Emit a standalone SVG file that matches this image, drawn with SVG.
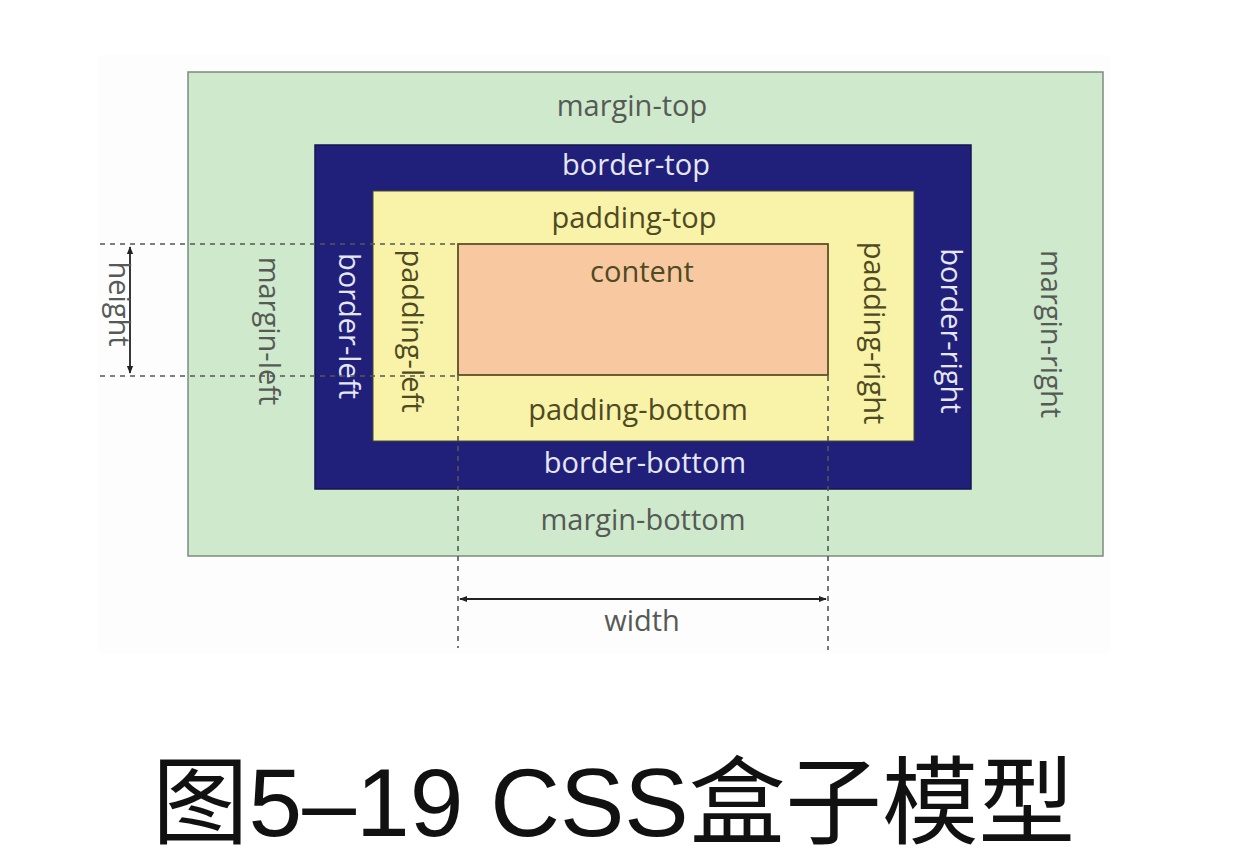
<svg xmlns="http://www.w3.org/2000/svg" width="1240" height="868" viewBox="0 0 1240 868">
<defs>
<style>
.lbl{font-family:"Open Sans","DejaVu Sans",sans-serif;font-size:29px;text-anchor:middle;dominant-baseline:central}
.mg{fill:#565a56}
.bd{fill:#e6e6f4}
.pd{fill:#4e4a22}
.dash{stroke:#555;stroke-width:1.6;stroke-dasharray:5 5;fill:none}
.dim{stroke:#222;stroke-width:1.8;fill:none}
.title{font-family:"Liberation Sans","Noto Sans CJK SC",sans-serif;font-size:96px;fill:#111}
</style>
<marker id="ah" viewBox="0 0 10 10" refX="9" refY="5" markerWidth="8" markerHeight="8" orient="auto-start-reverse" markerUnits="userSpaceOnUse">
<path d="M0,1 L10,5 L0,9 z" fill="#222"/>
</marker>
</defs>
<rect width="1240" height="868" fill="#ffffff"/>
<rect x="98" y="55" width="1012" height="598" fill="#fdfdfd"/>

<g id="margin">
<rect x="188" y="72" width="915" height="484" fill="#cfe9cc" stroke="#7e8a7e" stroke-width="1.5"/>
<text class="lbl mg" x="632" y="104">margin-top</text>
<text class="lbl mg" x="643" y="518">margin-bottom</text>
<text class="lbl mg" transform="translate(270,331) rotate(90)">margin-left</text>
<text class="lbl mg" transform="translate(1052,334) rotate(90)">margin-right</text>
</g>

<g id="border">
<rect x="315" y="145" width="656" height="344" fill="#20207a" stroke="#15154f" stroke-width="1.5"/>
<text class="lbl bd" x="636" y="163">border-top</text>
<text class="lbl bd" x="645" y="461">border-bottom</text>
<text class="lbl bd" transform="translate(350,326) rotate(90)">border-left</text>
<text class="lbl bd" transform="translate(952,331) rotate(90)">border-right</text>
</g>

<g id="padding">
<rect x="373" y="191" width="541" height="250" fill="#f8f3a8" stroke="#4a4a2a" stroke-width="1"/>
<text class="lbl pd" x="634" y="216">padding-top</text>
<text class="lbl pd" x="638" y="408">padding-bottom</text>
<text class="lbl pd" transform="translate(413,331) rotate(90)">padding-left</text>
<text class="lbl pd" transform="translate(875,333) rotate(90)">padding-right</text>
</g>

<g id="content">
<rect x="458" y="244" width="370" height="131" fill="#f8c9a0" stroke="#5a5226" stroke-width="1.8"/>
<text class="lbl pd" x="642" y="270">content</text>
</g>

<g id="connectors">
<line class="dash" x1="100" y1="244" x2="458" y2="244"/>
<line class="dash" x1="100" y1="376" x2="458" y2="376"/>
<line class="dash" x1="458" y1="376" x2="458" y2="648"/>
<line class="dash" x1="828" y1="376" x2="828" y2="650"/>
<line class="dim" x1="130" y1="247" x2="130" y2="373" marker-start="url(#ah)" marker-end="url(#ah)"/>
<line class="dim" x1="460" y1="599" x2="826" y2="599" marker-start="url(#ah)" marker-end="url(#ah)"/>
</g>

<g id="dimension-labels">
<text class="lbl mg" x="642" y="619">width</text>
<text class="lbl mg" transform="translate(120,304) rotate(90)">height</text>
</g>

<g id="title">
<text class="title" x="152" y="836" textLength="923" lengthAdjust="spacingAndGlyphs">图5–19 CSS盒子模型</text>
</g>
</svg>
